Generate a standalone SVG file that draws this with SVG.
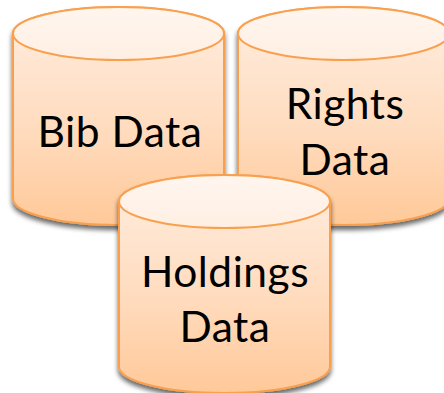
<svg xmlns="http://www.w3.org/2000/svg" width="444" height="393" viewBox="0 0 444 393">
  <defs>
    <linearGradient id="body" x1="0" y1="0" x2="0" y2="1">
      <stop offset="0" stop-color="#ffeee0"/>
      <stop offset="0.55" stop-color="#ffdcbf"/>
      <stop offset="1" stop-color="#ffc999"/>
    </linearGradient>
    <linearGradient id="top" x1="0" y1="0" x2="0" y2="1">
      <stop offset="0" stop-color="#fff6ef"/>
      <stop offset="1" stop-color="#ffefe3"/>
    </linearGradient>
    <filter id="shadow" x="-10%" y="-10%" width="120%" height="120%">
      <feGaussianBlur in="SourceAlpha" stdDeviation="2.4"/>
      <feOffset dy="3.5" dx="0"/>
      <feComponentTransfer><feFuncA type="linear" slope="0.6"/></feComponentTransfer>
      <feMerge><feMergeNode/><feMergeNode in="SourceGraphic"/></feMerge>
    </filter>
    <path id="cyl" d="M0 26.5A105.5 26.5 0 0 1 211 26.5V191.5A105.5 26.5 0 0 1 0 191.5Z"/>
  </defs>
  <style>
    .b{fill:url(#body);stroke:#f9a04f;stroke-width:2;filter:url(#shadow)}
    .t{fill:url(#top);stroke:#f9a04f;stroke-width:2}
    text{font-family:"Lato","Open Sans",sans-serif;font-size:42.5px;letter-spacing:0.5px;fill:#000;text-anchor:middle}
  </style>
  <rect width="444" height="393" fill="#fff"/>
  <g id="connectors"/>
  <g id="bib-data" transform="translate(13 7)">
    <use href="#cyl" class="b"/>
    <ellipse class="t" cx="105.5" cy="26.5" rx="105.5" ry="26.5"/>
    <text x="107" y="140">Bib Data</text>
  </g>
  <g id="rights-data" transform="translate(238 7)">
    <use href="#cyl" class="b"/>
    <ellipse class="t" cx="105.5" cy="26.5" rx="105.5" ry="26.5"/>
    <text x="107" y="112">Rights</text>
    <text x="107" y="168">Data</text>
  </g>
  <g id="holdings-data" transform="translate(119 175)">
    <use href="#cyl" class="b"/>
    <ellipse class="t" cx="105.5" cy="26.5" rx="105.5" ry="26.5"/>
    <text x="106" y="112">Holdings</text>
    <text x="106" y="167">Data</text>
  </g>
</svg>
